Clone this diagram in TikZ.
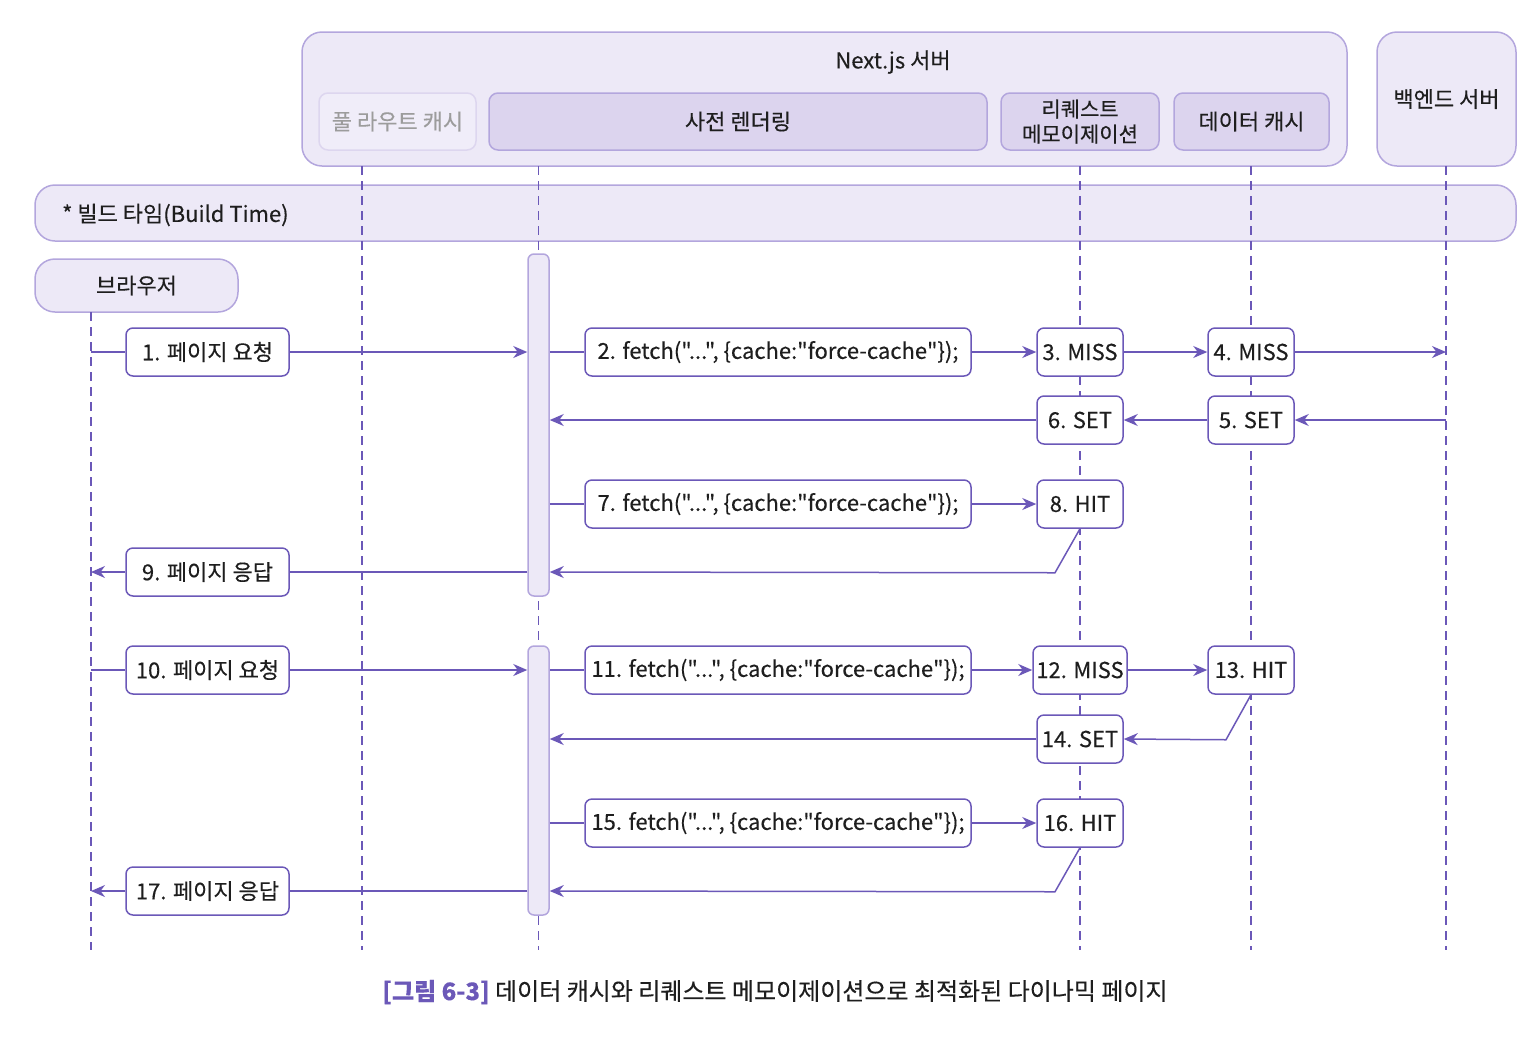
\documentclass[tikz,border=0pt]{standalone}
\usepackage{fontspec}
\setmainfont{Noto Sans CJK KR}[Ligatures=TeXOff, FakeBold=0.3]
\usetikzlibrary{arrows.meta}
\definecolor{pur}{HTML}{6B58B8}
\definecolor{lav}{HTML}{EDE9F7}
\definecolor{lavd}{HTML}{DCD4EE}
\definecolor{lavs}{HTML}{B3A6DD}
\definecolor{lavf}{HTML}{F0EDF9}
\definecolor{lavfs}{HTML}{DDD6EF}
\definecolor{txt}{HTML}{1E1E1E}
\definecolor{gtxt}{HTML}{9C9C9C}
\begin{document}
\begin{tikzpicture}[x=1pt,y=-1pt,
  every node/.style={font=\fontsize{22}{25}\selectfont, text=txt, inner sep=0pt},
  life/.style={pur, line width=1.5pt, dash pattern=on 9pt off 6pt},
  msg/.style={pur, line width=1.5pt},
  arr/.style={msg, -{Stealth[length=14pt,width=12pt,inset=4.5pt]}},
  lbl/.style={draw=pur, line width=1.5pt, fill=white, rounded corners=7pt, minimum height=48pt},
  fetchbox/.style={lbl, minimum width=386pt},
  pagebox/.style={lbl, minimum width=163pt},
  cachebox/.style={lbl, minimum width=86pt},
  bigbox/.style={draw=lavs, line width=1.5pt, fill=lav, rounded corners=20pt},
  subbox/.style={draw=lavs, line width=1.5pt, fill=lavd, rounded corners=9pt, minimum height=57pt},
  actbar/.style={draw=lavs, line width=1.5pt, fill=lav, rounded corners=6pt, minimum width=21pt}
]
\useasboundingbox (0,0) rectangle (1539,1037);

% header boxes
\node[bigbox, minimum width=1045pt, minimum height=134pt] (nx) at (824.5,99) {};
\node (nxt) at (893,62) {Next.js 서버};
\node[bigbox, minimum width=139pt, minimum height=134pt] (be) at (1446.5,99) {백엔드 서버};
\node[bigbox, minimum width=1481pt, minimum height=56pt] (bt) at (775.5,213) {};
\node[anchor=west] (btt) at (62,215) {* 빌드 타임(Build Time)};
\node[bigbox, minimum width=203pt, minimum height=53pt] (br) at (136.5,285.5) {브라우저};
\coordinate (brx) at (91,312);
\coordinate (frcx) at (362,166);
\coordinate (prex) at (538.5,166);
\coordinate (rmx) at (1080,166);
\coordinate (dcx) at (1251,166);
\coordinate (bex) at (1446,166);

% lifelines
\draw[life] (brx) -- ++(0,638);
\draw[life] (frcx) -- ++(0,784);
\draw[life] (prex) -- ++(0,784);
\draw[life] (rmx) -- ++(0,784);
\draw[life] (dcx) -- ++(0,784);
\draw[life] (bex) -- ++(0,784);

% sub boxes
\node[subbox, draw=lavfs, fill=lavf, text=gtxt, minimum width=157pt] (frc) at (397.5,121.5) {풀 라우트 캐시};
\node[subbox, minimum width=498pt] (pre) at (738,121.5) {사전 렌더링};
\node[subbox, minimum width=158pt, align=center, font=\fontsize{21}{25}\selectfont] (rm) at (1080,121.5) {리퀘스트\\메모이제이션};
\node[subbox, minimum width=155pt] (dc) at (1251.5,121.5) {데이터 캐시};

% activation bars
\node[actbar, minimum height=342pt] (act1) at (538.5,425) {};
\node[actbar, minimum height=269pt] (act2) at (538.5,780.5) {};

% labels
\node[pagebox] (l1) at (207.5,352) {1. 페이지 요청};
\node[fetchbox] (l2) at (778,352) {2. fetch("...", \{cache:"force-cache"\});};
\node[cachebox] (m3) at (1080,352) {3. MISS};
\node[cachebox] (m4) at (1251,352) {4. MISS};
\node[cachebox] (m5) at (1251,420) {5. SET};
\node[cachebox] (m6) at (1080,420) {6. SET};
\node[fetchbox] (l7) at (778,504) {7. fetch("...", \{cache:"force-cache"\});};
\node[cachebox] (m8) at (1080,504) {8. HIT};
\node[pagebox] (l9) at (207.5,572) {9. 페이지 응답};
\node[pagebox] (l10) at (207.5,670) {10. 페이지 요청};
\node[fetchbox] (l11) at (778,670) {11. fetch("...", \{cache:"force-cache"\});};
\node[cachebox, minimum width=94pt] (m12) at (1080,670) {12. MISS};
\node[cachebox] (m13) at (1251,670) {13. HIT};
\node[cachebox] (m14) at (1080,739) {14. SET};
\node[fetchbox] (l15) at (778,823) {15. fetch("...", \{cache:"force-cache"\});};
\node[cachebox] (m16) at (1080,823) {16. HIT};
\node[pagebox] (l17) at (207.5,891) {17. 페이지 응답};

% messages - first request
\draw[msg] (brx |- l1) -- (l1.west);
\draw[arr] (l1.east) -- (act1.west |- l1);
\draw[msg] (act1.east |- l2) -- (l2.west);
\draw[arr] (l2.east) -- (m3.west);
\draw[arr] (m3.east) -- (m4.west);
\draw[arr] (m4.east) -- (bex |- m4);
\draw[arr] (bex |- m5) -- (m5.east);
\draw[arr] (m5.west) -- (m6.east);
\draw[arr] (m6.west) -- (act1.east |- m6);
\draw[msg] (act1.east |- l7) -- (l7.west);
\draw[arr] (l7.east) -- (m8.west);
\draw[arr] (m8.south) -- ++(-25,44) -- (act1.east |- l9);
\draw[msg] (act1.west |- l9) -- (l9.east);
\draw[arr] (l9.west) -- (brx |- l9);

% messages - second request
\draw[msg] (brx |- l10) -- (l10.west);
\draw[arr] (l10.east) -- (act2.west |- l10);
\draw[msg] (act2.east |- l11) -- (l11.west);
\draw[arr] (l11.east) -- (m12.west);
\draw[arr] (m12.east) -- (m13.west);
\draw[arr] (m13.south) -- ++(-25,45) -- (m14.east);
\draw[arr] (m14.west) -- (act2.east |- m14);
\draw[msg] (act2.east |- l15) -- (l15.west);
\draw[arr] (l15.east) -- (m16.west);
\draw[arr] (m16.south) -- ++(-25,44) -- (act2.east |- l17);
\draw[msg] (act2.west |- l17) -- (l17.east);
\draw[arr] (l17.west) -- (brx |- l17);

% caption
\node[font=\fontsize{24}{28}\selectfont] (cap) at (775,992) {{\bfseries\color{pur}[그림 6-3]} 데이터 캐시와 리퀘스트 메모이제이션으로 최적화된 다이나믹 페이지};
\end{tikzpicture}
\end{document}
